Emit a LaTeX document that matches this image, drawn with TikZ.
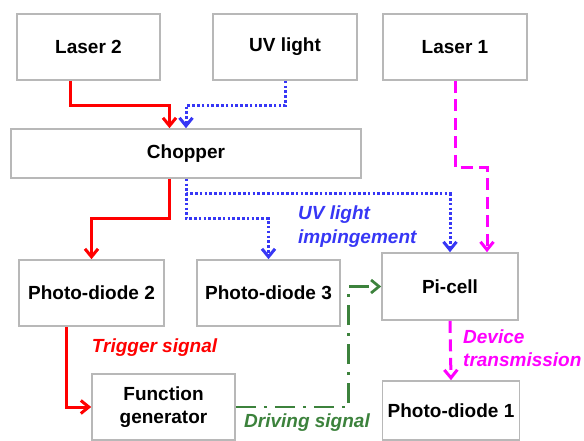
\documentclass[tikz,border=0pt]{standalone}
\usepackage{fontspec}
\setmainfont{Liberation Sans}
\usetikzlibrary{arrows.meta}

\definecolor{sigred}{RGB}{255,0,0}
\definecolor{uvblue}{RGB}{55,55,245}
\definecolor{transmag}{RGB}{255,0,255}
\definecolor{drivegreen}{RGB}{60,130,60}

\begin{document}
\begin{tikzpicture}[
  x=1pt, y=-1pt,
  font=\fontsize{19}{23.5}\selectfont\bfseries,
  box/.style={draw=black!28, line width=1.6pt, align=center, inner sep=2pt, minimum height=66pt},
  lbl/.style={font=\fontsize{19}{23.5}\selectfont\bfseries\itshape, inner sep=0pt, align=left},
  tip/.style={-{Straight Barb[length=8pt,width=13pt]}},
  redarr/.style={tip, draw=sigred, line width=3pt},
  uvarr/.style={tip, draw=uvblue, line width=3pt, dash pattern=on 2.6pt off 2.2pt},
  magarr/.style={tip, draw=transmag, line width=3pt, dash pattern=on 12pt off 6.5pt},
  grnarr/.style={tip, draw=drivegreen, line width=2.7pt, dash pattern=on 20pt off 8pt on 3pt off 8pt}]
  \useasboundingbox (0,0) rectangle (584,441);
  \node[box, minimum width=143pt] (laser2) at (88.5,47) {Laser 2};
  \node[box, minimum width=144pt] (uvlight) at (285,47) {UV light};
  \node[box, minimum width=144pt] (laser1) at (455,47) {Laser 1};
  \node[box, minimum width=350pt, minimum height=49pt] (chopper) at (186,153.5) {Chopper};
  \node[box, minimum width=145pt] (pdtwo) at (91.5,293) {Photo-diode 2};
  \node[box, minimum width=143pt] (pdthree) at (268.5,293) {Photo-diode 3};
  \node[box, minimum width=136pt, minimum height=67pt] (picell) at (450,286.5) {Pi-cell};
  \node[box, minimum width=143pt] (funcgen) at (163.5,407) {Function\\generator};
  \node[box, minimum width=137pt, minimum height=59pt] (pdone) at (451,410.5) {Photo-diode 1};
  \node[lbl, text=uvblue, anchor=west] (impinge) at (298,226.5) {UV light\\impingement};
  \node[lbl, text=sigred] (trigger) at (154.5,348) {Trigger signal};
  \node[lbl, text=drivegreen] (driving) at (307,423) {Driving signal};
  \node[lbl, text=transmag, anchor=west] (devtrans) at (463,348) {Device\\transmission};
  \draw[redarr] ([xshift=-17.7pt]laser2.south) -- ++(0,25) -| ([xshift=-16.5pt]chopper.north);
  \draw[uvarr] (uvlight.south) -- ++(0,25) -| (chopper.north);
  \draw[magarr] (laser1.south) -- ++(0,87) -| ([xshift=37pt]picell.north);
  \draw[redarr] ([xshift=-16.5pt]chopper.south) -- ++(0,40) -| (pdtwo.north);
  \draw[uvarr] (chopper.south) -- ++(0,40) -| (pdthree.north);
  \draw[uvarr] (chopper.south) -- ++(0,15) -| (picell.north);
  \draw[redarr] ([xshift=-25pt]pdtwo.south) |- (funcgen.west);
  \draw[grnarr] (funcgen.east) -- ++(113,0) |- (picell.west);
  \draw[magarr] (picell.south) -- (pdone.north);
\end{tikzpicture}
\end{document}
